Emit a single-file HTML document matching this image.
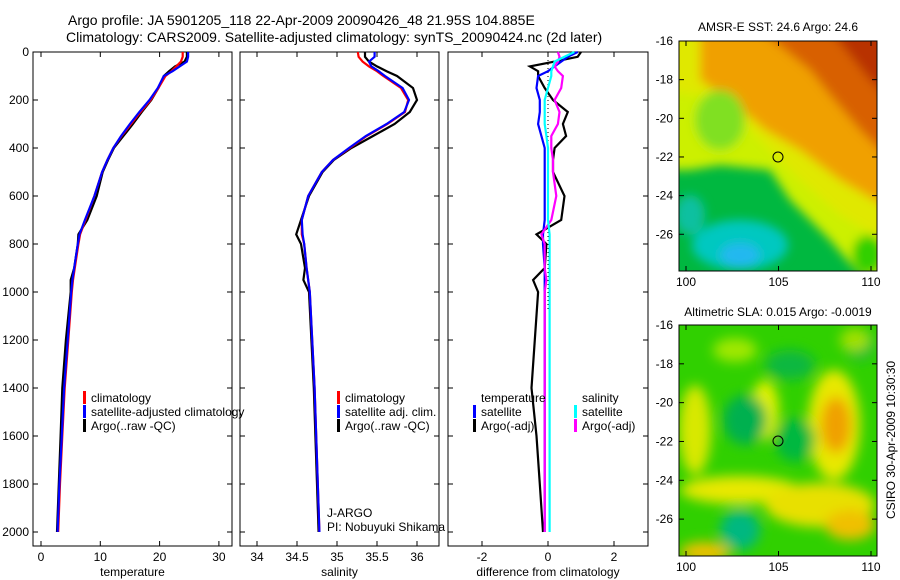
<!DOCTYPE html>
<html><head><meta charset="utf-8"><style>
body{margin:0;background:#fff;}
svg{display:block;font-family:"Liberation Sans",sans-serif;}
</style></head><body>
<svg id="fig" width="900" height="580" viewBox="0 0 900 580" xmlns="http://www.w3.org/2000/svg">
<defs>
<filter id="bl" x="-20%" y="-20%" width="140%" height="140%"><feGaussianBlur stdDeviation="5"/></filter>
<filter id="bl2" x="-20%" y="-20%" width="140%" height="140%"><feGaussianBlur stdDeviation="6"/></filter>
<clipPath id="c1"><rect x="679" y="41" width="198" height="230"/></clipPath>
<clipPath id="c2"><rect x="679" y="325" width="198" height="231"/></clipPath>
</defs>
<text x="68" y="25" font-size="14">Argo profile: JA 5901205_118 22-Apr-2009 20090426_48 21.95S 104.885E</text>
<text x="66" y="42" font-size="14">Climatology: CARS2009. Satellite-adjusted climatology: synTS_20090424.nc (2d later)</text>

<g clip-path="url(#c1)">
<rect x="679" y="41" width="198" height="230" fill="#00b840"/>
<g filter="url(#bl)">
<polygon points="660,30 900,30 900,290 860,275 830,240 790,200 770,170 720,165 690,170 660,170" fill="#ccf000"/>
<polygon points="660,30 900,30 900,250 840,215 800,180 770,150 740,120 700,95 660,90" fill="#e0e800"/>
<polygon points="700,30 900,30 900,215 840,180 800,150 765,130 730,100 700,80" fill="#f0a000"/>
<polygon points="760,30 900,30 900,170 860,130 830,95 810,70" fill="#d86000"/>
<polygon points="830,30 900,30 900,110 870,80" fill="#b83000"/>
<ellipse cx="720" cy="120" rx="25" ry="30" fill="#80e020"/>
<ellipse cx="740" cy="245" rx="48" ry="25" fill="#00c8c0"/>
<ellipse cx="740" cy="255" rx="20" ry="12" fill="#20b8f0"/>
<ellipse cx="690" cy="215" rx="15" ry="20" fill="#10c0a0"/>
<ellipse cx="868" cy="255" rx="16" ry="20" fill="#30d000"/>
</g>
</g>
<rect x="679" y="41" width="198" height="230" fill="none" stroke="#000"/>
<circle cx="778" cy="157" r="5" fill="none" stroke="#000"/>

<g clip-path="url(#c2)">
<rect x="679" y="325" width="198" height="231" fill="#30d000"/>
<g filter="url(#bl2)">
<ellipse cx="834" cy="425" rx="26" ry="55" fill="#e8e800"/>
<ellipse cx="836" cy="425" rx="15" ry="28" fill="#f0a000"/>
<ellipse cx="765" cy="410" rx="14" ry="30" fill="#e0f000"/>
<ellipse cx="740" cy="490" rx="60" ry="14" fill="#e8e800"/>
<ellipse cx="820" cy="505" rx="55" ry="22" fill="#e8e000"/>
<ellipse cx="850" cy="525" rx="25" ry="15" fill="#f0c000"/>
<ellipse cx="695" cy="430" rx="16" ry="45" fill="#d8e800"/>
<ellipse cx="735" cy="350" rx="22" ry="12" fill="#a0e800"/>
<ellipse cx="745" cy="420" rx="22" ry="25" fill="#00b050"/>
<ellipse cx="795" cy="440" rx="20" ry="22" fill="#00b840"/>
<ellipse cx="790" cy="365" rx="25" ry="15" fill="#10b840"/>
<ellipse cx="740" cy="530" rx="20" ry="20" fill="#00b880"/>
<ellipse cx="705" cy="552" rx="25" ry="10" fill="#f0c000"/>
<ellipse cx="860" cy="345" rx="15" ry="15" fill="#10b840"/>
<ellipse cx="855" cy="340" rx="15" ry="12" fill="#a0e000"/>
</g>
</g>
<rect x="679" y="325" width="198" height="231" fill="none" stroke="#000"/>
<circle cx="778" cy="441" r="5" fill="none" stroke="#000"/>

<text x="778" y="31" font-size="12" text-anchor="middle">AMSR-E SST: 24.6 Argo: 24.6</text>
<text x="778" y="316" font-size="12" text-anchor="middle">Altimetric SLA: 0.015 Argo: -0.0019</text>
<text transform="translate(895,440) rotate(-90)" font-size="12" text-anchor="middle">CSIRO 30-Apr-2009 10:30:30</text>
<g id="axes"></g>
<g id="marks"></g>
</svg>
<script>
const depths=[0,20,40,60,80,100,150,200,250,300,350,400,450,500,600,700,760,800,900,950,1000,1200,1400,1600,1800,2000];
const tempClim=[23.9,23.9,23.6,22.8,22.0,21.0,19.8,18.5,16.8,15.2,13.6,12.2,11.2,10.3,9.0,7.5,6.6,6.3,5.7,5.4,5.2,4.6,4.0,3.6,3.2,2.9];
const tempSat=[24.8,24.8,24.6,23.4,22.2,20.7,19.7,18.3,16.6,15.0,13.5,12.2,11.2,10.3,9.0,7.4,6.5,6.2,5.6,5.3,5.1,4.5,3.9,3.5,3.1,2.8];
const tempArgo=[24.6,24.6,24.2,22.6,21.6,20.7,19.8,18.6,17.0,15.5,13.9,12.3,11.3,10.4,9.4,7.8,6.3,6.2,5.6,5.0,5.0,4.2,3.6,3.3,3.0,2.7];
const salClim=[35.26,35.27,35.32,35.40,35.50,35.58,35.80,35.89,35.85,35.63,35.37,35.16,34.95,34.81,34.64,34.56,34.56,34.59,34.62,34.64,34.66,34.69,34.72,34.74,34.76,34.78];
const salSat=[35.47,35.47,35.40,35.43,35.52,35.60,35.82,35.90,35.84,35.62,35.36,35.15,34.95,34.81,34.64,34.56,34.57,34.59,34.62,34.64,34.66,34.69,34.72,34.74,34.76,34.78];
const salArgo=[35.35,35.35,35.40,35.50,35.62,35.75,35.95,36.00,35.91,35.72,35.45,35.18,34.96,34.82,34.65,34.55,34.49,34.55,34.60,34.58,34.65,34.68,34.71,34.73,34.75,34.77];
const dTempSat=[0.9,0.6,0.4,0.2,0,-0.3,-0.35,-0.25,-0.25,-0.3,-0.2,-0.1,-0.1,-0.1,-0.1,-0.1,-0.15,-0.15,-0.1,-0.1,-0.1,-0.1,-0.1,-0.1,-0.1,-0.1];
const dTempArgo=[1.0,0.9,0.2,-0.55,-0.3,-0.3,-0.1,0.15,0.6,0.45,0.55,0.2,0.15,0.15,0.5,0.4,-0.35,-0.05,-0.1,-0.45,-0.3,-0.4,-0.5,-0.35,-0.25,-0.15];
const dSalSat=[0.8,0.5,0.2,0.15,0.1,0.1,0,-0.1,-0.1,-0.1,-0.05,0,0,0,0,0,0.05,0.05,0.05,0.05,0.05,0.05,0.05,0.05,0.05,0.05];
const dSalArgo=[0.3,0.35,0.3,0.2,0.3,0.45,0.4,0.2,0.35,0.3,0.1,0.1,0.15,0.15,0.25,0.1,-0.2,-0.1,-0.1,-0.05,-0.1,-0.1,-0.1,-0.1,-0.1,-0.1];
const depthTicks=[0,200,400,600,800,1000,1200,1400,1600,1800,2000];
const tempTicks=[0,10,20,30];
const salTicks=[34,34.5,35,35.5,36];
const diffTicks=[-2,0,2];
const mapLatTicks=[-16,-18,-20,-22,-24,-26];
const mapLonTicks=[100,105,110];

const NS='http://www.w3.org/2000/svg';
const axes=document.getElementById('axes'),marks=document.getElementById('marks');
function mk(tag,attrs,parent,txt){const e=document.createElementNS(NS,tag);for(const k in attrs)e.setAttribute(k,attrs[k]);if(txt!==undefined)e.textContent=txt;parent.appendChild(e);return e;}
const yD=d=>52+d*0.24;
const panels=[
 {x0:33,x1:232,f:v=>41+v*5.93,ticks:tempTicks,label:'temperature',name:'temperature'},
 {x0:240,x1:439,f:v=>257+(v-34)*80,ticks:salTicks,label:'salinity',name:'salinity'},
 {x0:448,x1:648,f:v=>548+v*33,ticks:diffTicks,label:'difference from climatology',name:'difference'}
];
panels.forEach((p,i)=>{
 const r=mk('rect',{x:p.x0,y:52,width:p.x1-p.x0,height:494,fill:'none',stroke:'#000'},axes);
 
 
 p.ticks.forEach(t=>{const x=p.f(t);
  mk('line',{x1:x,x2:x,y1:546,y2:541,stroke:'#000'},axes);
  mk('line',{x1:x,x2:x,y1:52,y2:57,stroke:'#000'},axes);
  const tl=mk('text',{x:x,y:561,'font-size':12,'text-anchor':'middle'},axes,String(t));
  
  
 });
 depthTicks.forEach(d=>{const y=yD(d);
  mk('line',{x1:p.x0,x2:p.x0+5,y1:y,y2:y,stroke:'#000'},axes);
  mk('line',{x1:p.x1,x2:p.x1-5,y1:y,y2:y,stroke:'#000'},axes);
  if(i===0){const dl=mk('text',{x:p.x0-4,y:y+4,'font-size':12,'text-anchor':'end'},axes,String(d));
   
   }
 });
 const xl=mk('text',{x:(p.x0+p.x1)/2,y:576,'font-size':12,'text-anchor':'middle'},axes,p.label);
 
 
});
mk('line',{x1:548,x2:548,y1:52,y2:310,stroke:'#000','stroke-dasharray':'1,3'},axes);
function line(vals,p,color,name){
 const pts=vals.map((v,i)=>p.f(v).toFixed(1)+','+yD(depths[i]).toFixed(1)).join(' ');
 const l=mk('polyline',{points:pts,fill:'none',stroke:color,'stroke-width':2.2},marks);
 
 
}
line(tempArgo,panels[0],'#000','temp-argo-line');
line(tempClim,panels[0],'#f00','temp-climatology-line');
line(tempSat,panels[0],'#00f','temp-satellite-line');
line(salArgo,panels[1],'#000','sal-argo-line');
line(salClim,panels[1],'#f00','sal-climatology-line');
line(salSat,panels[1],'#00f','sal-satellite-line');
line(dTempArgo,panels[2],'#000','diff-temp-argo-line');
line(dTempSat,panels[2],'#00f','diff-temp-satellite-line');
line(dSalArgo,panels[2],'#f0f','diff-sal-argo-line');
line(dSalSat,panels[2],'#0ff','diff-sal-satellite-line');
function leg(x,y,color,txt,name){
 if(color){const b=mk('rect',{x:x,y:y-11,width:3,height:13,fill:color},marks);
  
  }
 const t=mk('text',{x:x+8,y:y,'font-size':12},marks,txt);
 
 
}
leg(83,402,'#f00','climatology','legend-temp-climatology');
leg(83,416,'#00f','satellite-adjusted climatology','legend-temp-satellite');
leg(83,430,'#000','Argo(..raw -QC)','legend-temp-argo');
leg(337,402,'#f00','climatology','legend-sal-climatology');
leg(337,416,'#00f','satellite adj. clim.','legend-sal-satellite');
leg(337,430,'#000','Argo(..raw -QC)','legend-sal-argo');
leg(473,402,null,'temperature','legend-diff-temp-header');
leg(473,416,'#00f','satellite','legend-diff-temp-satellite');
leg(473,430,'#000','Argo(-adj)','legend-diff-temp-argo');
leg(574,402,null,'salinity','legend-diff-sal-header');
leg(574,416,'#0ff','satellite','legend-diff-sal-satellite');
leg(574,430,'#f0f','Argo(-adj)','legend-diff-sal-argo');
const t1=mk('text',{x:327,y:517,'font-size':12},marks,'J-ARGO');


const t2=mk('text',{x:327,y:531,'font-size':12},marks,'PI: Nobuyuki Shikama');


[[41,271],[325,556]].forEach((m,k)=>{
 const top=m[0],bot=m[1],sc=(bot-top)/11.9;
 mapLatTicks.forEach(l=>{const y=top+(-16-l)*sc;
  mk('line',{x1:679,x2:684,y1:y,y2:y,stroke:'#000'},axes);
  mk('line',{x1:877,x2:872,y1:y,y2:y,stroke:'#000'},axes);
  const tl=mk('text',{x:673,y:y+4,'font-size':12,'text-anchor':'end'},axes,String(l));
  
  
 });
 mapLonTicks.forEach(l=>{const x=686+(l-100)*18.5;
  mk('line',{x1:x,x2:x,y1:bot,y2:bot-5,stroke:'#000'},axes);
  mk('line',{x1:x,x2:x,y1:top,y2:top+5,stroke:'#000'},axes);
  const tl=mk('text',{x:x,y:bot+15,'font-size':12,'text-anchor':'middle'},axes,String(l));
  
  
 });
});
</script>
</body></html>
